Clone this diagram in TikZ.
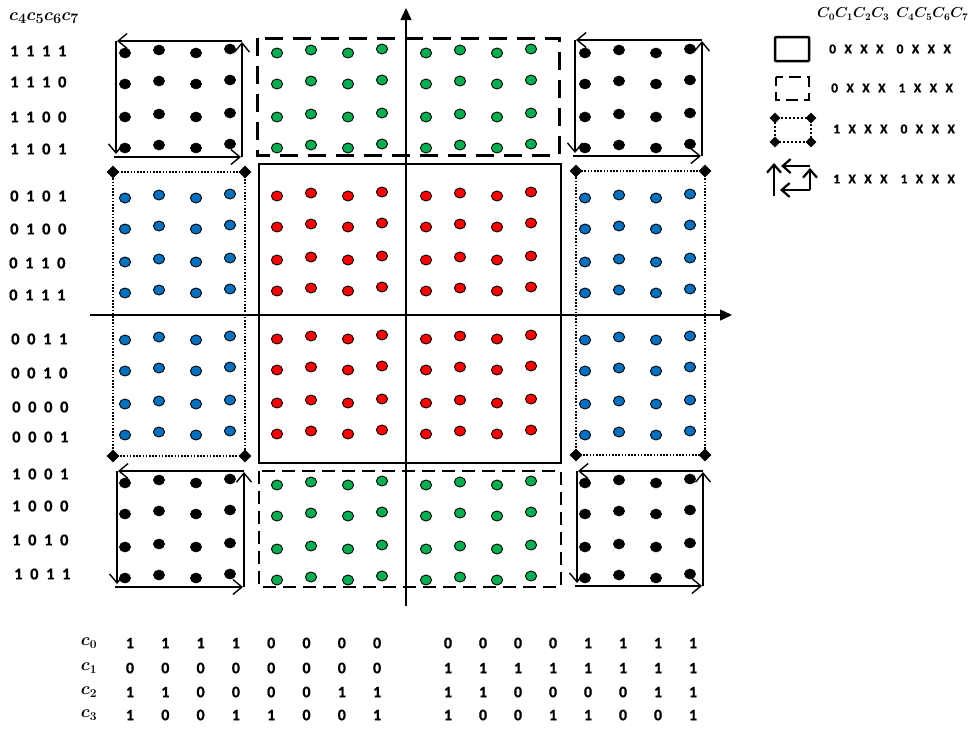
\documentclass[tikz,border=0pt]{standalone}
\usepackage{amsmath}
\usepackage{bm}
\usepackage{fontspec}
\setmainfont{Carlito}[BoldFeatures={FakeBold=0.8}]
\usetikzlibrary{arrows.meta,shapes.geometric}
\definecolor{dgreen}{RGB}{0,176,80}
\definecolor{dred}{RGB}{255,0,0}
\definecolor{dblue}{RGB}{0,112,192}
\newcommand\gp{\hspace{7.6pt}}
\newcommand\lgp{\hspace{8.4pt}}
\newcommand\bits[4]{#1\gp#2\gp#3\gp#4}
\begin{document}
\begin{tikzpicture}[x=1pt,y=-1pt,
  lab/.style={font=\fontsize{16.5}{16.5}\selectfont\bfseries, inner sep=0pt, anchor=west},
  tnum/.style={font=\fontsize{16}{16}\selectfont\bfseries, inner sep=0pt},
  leg/.style={font=\fontsize{13.5}{13.5}\selectfont\bfseries, inner sep=0pt, anchor=west},
  kdot/.style={fill=black, draw=black, line width=0.6pt},
  gdot/.style={fill=dgreen, draw=black, line width=0.9pt},
  rdot/.style={fill=dred, draw=black, line width=0.9pt},
  bdot/.style={fill=dblue, draw=black, line width=0.9pt},
  axis/.style={line width=1.4pt, -{Triangle[length=12pt,width=11pt]}},
  cbar/.style={line width=1.4pt, -{Straight Barb[length=9pt,width=15pt]}},
  lbar/.style={line width=2.2pt, -{Straight Barb[length=8pt,width=14pt]}},
  dotline/.style={line width=1.6pt, dash pattern=on 1.6pt off 1.6pt},
  dmd/.style={diamond, fill=black, inner sep=0pt, minimum size=13pt},
]
\useasboundingbox (0,0) rectangle (973,729);

% ---- dots
\foreach \bx/\by/\st in {125/51/kdot, 277/51/gdot, 426/51/gdot, 585/51/kdot,
  125/196/bdot, 277/194/rdot, 426/194/rdot, 585/196/bdot,
  125/338/bdot, 277/337/rdot, 426/337/rdot, 585/338/bdot,
  125/481/kdot, 277/483/gdot, 426/483/gdot, 585/481/kdot}
  \foreach \dx/\dj in {0/2,34/-1,71/2,105/-2}
    \foreach \dy in {0,31,64,95}
      \path[\st] (\bx+\dx,\by+\dy+\dj) ellipse [x radius=5.6, y radius=5];

% ---- axes
\coordinate (vb) at (406,606); \coordinate (vt) at (406,8);
\coordinate (hl) at (90,315);  \coordinate (hr) at (732,315);
\draw[axis] (vb) -- (vt);
\draw[axis] (hl) -- (hr);

% ---- center solid box
\draw[line width=2.5pt] (259,164) rectangle (561,463);
% ---- dashed boxes
\draw[line width=3pt, dash pattern=on 18pt off 10pt] (257,38) rectangle (559,155);
\draw[line width=2pt, dash pattern=on 13pt off 7pt] (259,471) rectangle (561,587);

% ---- dotted boxes with diamonds
\draw[dotline] (113,172) rectangle (245,456);
\draw[dotline] (576,171) rectangle (705,455);
\foreach \n/\p in {d1/{(113,172)},d2/{(245,172)},d3/{(113,456)},d4/{(245,456)},
                   d5/{(576,171)},d6/{(705,171)},d7/{(576,455)},d8/{(705,455)}}
  \node[dmd] (\n) at \p {};

% ---- corner boxes with arrows
\foreach \L/\R/\T/\B in {116/242/41/157, 575/702/40/156, 117/244/471/587, 577/703/471/586}{
  \draw[cbar] (\R,\T) -- (\L+1,\T);
  \draw[cbar] (\L,\T) -- (\L,\B-3);
  \draw[cbar] (\L-2,\B) -- (\R-1,\B);
  \draw[cbar] (\R,\B) -- (\R,\T+1);
}

% ---- left labels
\node[anchor=west, inner sep=0pt] (hdr) at (9,18) {\fontsize{19}{19}\selectfont $\bm{c_4c_5c_6c_7}$};
\node[lab] (l1) at (10,51) {\bits1111};
\node[lab] (l2) at (10,82) {\bits1110};
\node[lab] (l3) at (10,117) {\bits1100};
\node[lab] (l4) at (10,149) {\bits1101};
\node[lab] (l5) at (10,196) {\bits0101};
\node[lab] (l6) at (10,229) {\bits0100};
\node[lab] (l7) at (9,263) {\bits0110};
\node[lab] (l8) at (9,295) {\bits0111};
\node[lab] (l9) at (11,339) {\bits0011};
\node[lab] (l10) at (11,373) {\bits0010};
\node[lab] (l11) at (12,407) {\bits0000};
\node[lab] (l12) at (12,437) {\bits0001};
\node[lab] (l13) at (12,474) {\bits1001};
\node[lab] (l14) at (12,506) {\bits1000};
\node[lab] (l15) at (12,540) {\bits1010};
\node[lab] (l16) at (14,574) {\bits1011};

% ---- legend
\node[anchor=west, inner sep=0pt] (lh) at (817,14) {\fontsize{14}{14}\selectfont $\bm{C_0C_1C_2C_3}$\hspace{7pt}$\bm{C_4C_5C_6C_7}$};
\draw[line width=2.5pt, rounded corners=1pt] (775,37) rectangle (809,61);
\draw[line width=2.5pt, dash pattern=on 12pt off 6pt, dash phase=3pt] (776,77) rectangle (809,100);
\draw[dotline, line width=2pt, dash pattern=on 2pt off 2pt] (775,118) rectangle (811,142);
\foreach \n/\p in {e1/{(775,118)},e2/{(811,118)},e3/{(775,142)},e4/{(811,142)}}
  \node[dmd, minimum size=11pt] (\n) at \p {};
\draw[lbar] (774,196) -- (774,163);
\draw[lbar] (810,166) -- (781,166);
\draw[lbar] (810,190) -- (810,168);
\draw[lbar] (810,190) -- (780,190);
\node[leg] (t1) at (829,49) {0\lgp X\lgp X\lgp X\hspace{13pt}0\lgp X\lgp X\lgp X};
\node[leg] (t2) at (831,88) {0\lgp X\lgp X\lgp X\hspace{13pt}1\lgp X\lgp X\lgp X};
\node[leg] (t3) at (833,129) {1\lgp X\lgp X\lgp X\hspace{13pt}0\lgp X\lgp X\lgp X};
\node[leg] (t4) at (833,179) {1\lgp X\lgp X\lgp X\hspace{13pt}1\lgp X\lgp X\lgp X};

% ---- bottom table
\foreach \lbl/\yy/\vals in {0/643/{1,1,1,1,0,0,0,0,0,0,0,0,1,1,1,1},
                           1/668/{0,0,0,0,0,0,0,0,1,1,1,1,1,1,1,1},
                           2/692/{1,1,0,0,0,0,1,1,1,1,0,0,0,0,1,1},
                           3/715/{1,0,0,1,1,0,0,1,1,0,0,1,1,0,0,1}}{
  \node[inner sep=0pt] (c\lbl) at (89,\yy) {\fontsize{18}{18}\selectfont $\bm{c_{\lbl}}$};
  \foreach \v [count=\k] in \vals {
    \pgfmathsetmacro{\xx}{\k<9 ? 130+35.3*(\k-1) : 448+35.0*(\k-9)}
    \node[tnum] (n\lbl-\k) at (\xx,\yy) {\v};
  }
}
\end{tikzpicture}
\end{document}
